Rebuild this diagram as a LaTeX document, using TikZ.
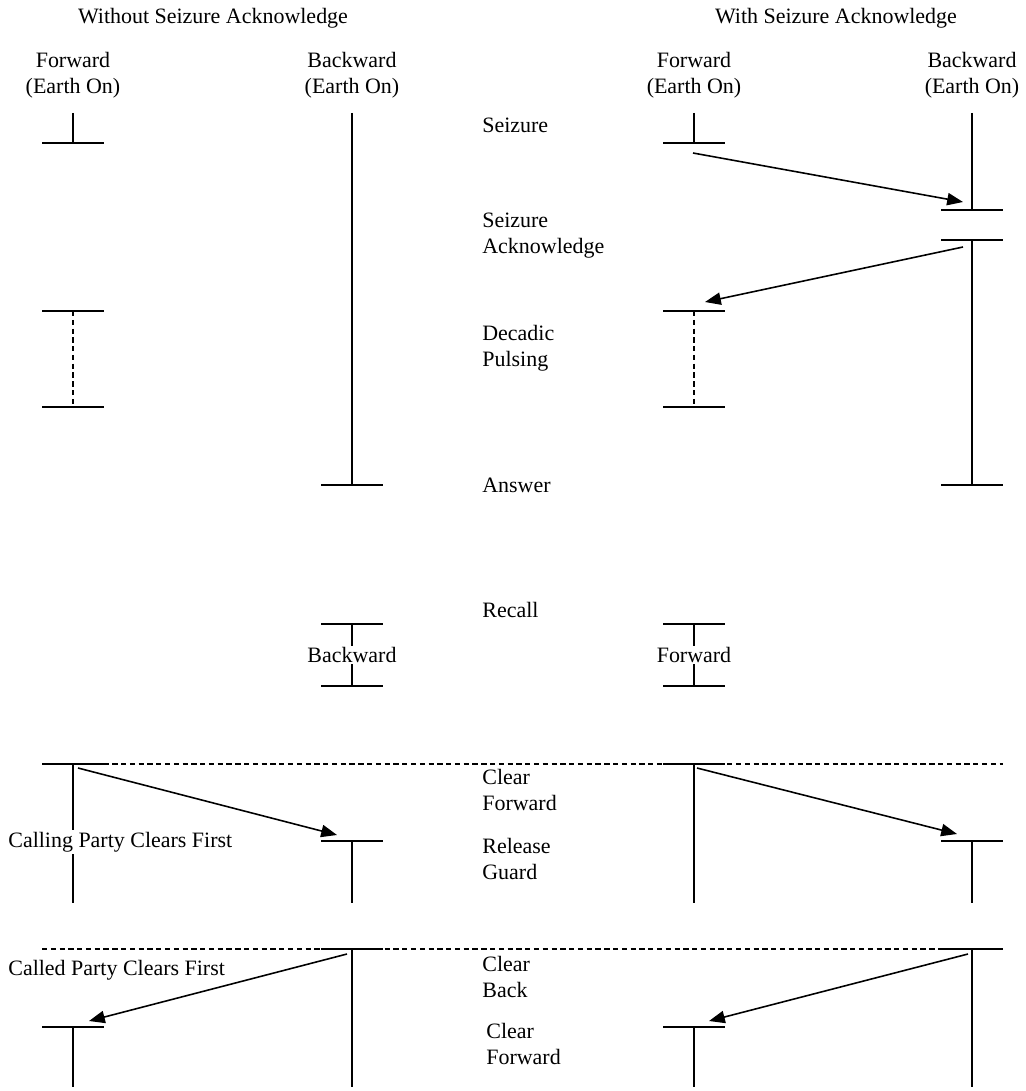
\documentclass[tikz,border=0pt]{standalone}
\usepackage{fontspec}
\setmainfont{Liberation Serif}
\usetikzlibrary{arrows.meta}
\tikzset{
  sig/.style={line width=0.9pt},
  msg/.style={line width=0.9pt, -{Triangle[length=9pt,width=7pt]}},
  dashline/.style={line width=0.9pt, dash pattern=on 3pt off 2pt},
  lbl/.style={font=\fontsize{12.5}{14.8}\selectfont, inner sep=0pt},
}
% short horizontal bar centred at (x,y)
\def\tick(#1,#2){\draw[sig] (#1-31,#2) -- (#1+31,#2);}

\begin{document}
\begin{tikzpicture}[x=0.02cm, y=-0.02cm]
			\useasboundingbox (0,0) rectangle (1026,1091);
			%%%%% HEADINGS %%%%%
			\node[lbl] (titleL) at (213,18) {Without Seizure Acknowledge};
			\node[lbl] (titleR) at (836,18) {With Seizure Acknowledge};
			\node[lbl, align=center] (fwdL) at (73,75) {Forward\\(Earth On)};
			\node[lbl, align=center] (bwdL) at (352,75) {Backward\\(Earth On)};
			\node[lbl, align=center] (fwdR) at (694,75) {Forward\\(Earth On)};
			\node[lbl, align=center] (bwdR) at (972,75) {Backward\\(Earth On)};
			
			%%%%% MIDDLE LABELS %%%%%
			\node[lbl, anchor=west] (seiz) at (482,125) {Seizure};
			\node[lbl, anchor=west, align=left] (sack) at (482,236) {Seizure\\Acknowledge};
			\node[lbl, anchor=west, align=left] (pulse) at (482,348) {Decadic\\Pulsing};
			\node[lbl, anchor=west] (ans) at (482,485) {Answer};
			\node[lbl, anchor=west] (recall) at (482,610) {Recall};
			\node[lbl, anchor=west, align=left] (clrf) at (482,790) {Clear\\Forward};
			\node[lbl, anchor=west, align=left] (relg) at (482,859) {Release\\Guard};
			\node[lbl, anchor=west, align=left] (clrb) at (482,977) {Clear\\Back};
			\node[lbl, anchor=west, align=left] (clrf2) at (486,1044) {Clear\\Forward};
			
			%%%%% WITHOUT SEIZURE ACK %%%%%
			\draw[sig] (73,113) -- (73,143); \tick(73,143)
			\draw[sig] (352,113) -- (352,485); \tick(352,485)
			\tick(73,311) \tick(73,407)
			\draw[dashline] (73,311) -- (73,407);
			
			%%%%% WITH SEIZURE ACK %%%%%
			\draw[sig] (694,113) -- (694,143); \tick(694,143)
			\draw[sig] (972,113) -- (972,210); \tick(972,210)
			\tick(972,240) \draw[sig] (972,240) -- (972,485); \tick(972,485)
			\tick(694,311) \tick(694,407)
			\draw[dashline] (694,311) -- (694,407);
			\coordinate (s1) at (693,153);
			\coordinate (s2) at (963,202);
			\coordinate (a1) at (963,247);
			\coordinate (a2) at (705,302);
			\draw[msg] (s1) -- (s2);
			\draw[msg] (a1) -- (a2);
			
			%%%%% RECALL %%%%%
			\tick(352,624) \tick(352,686)
			\draw[sig] (352,624) -- (352,686);
			\node[lbl, fill=white, inner ysep=1pt] (recB) at (352,655) {Backward};
			\tick(694,624) \tick(694,686)
			\draw[sig] (694,624) -- (694,686);
			\node[lbl, fill=white, inner ysep=1pt] (recF) at (694,655) {Forward};
			
			%%%%% CALLING PARTY CLEARS FIRST %%%%%
			\draw[dashline] (42,764) -- (1003,764);
			\tick(73,764) \draw[sig] (73,764) -- (73,903);
			\tick(352,841) \draw[sig] (352,841) -- (352,903);
			\tick(694,764) \draw[sig] (694,764) -- (694,903);
			\tick(972,841) \draw[sig] (972,841) -- (972,903);
			\node[lbl, anchor=west, fill=white, inner ysep=1pt] (calling) at (8,842) {Calling Party Clears First};
			\coordinate (c1) at (78,768);
			\coordinate (c2) at (337,835);
			\coordinate (c3) at (697,768);
			\coordinate (c4) at (957,834);
			\draw[msg] (c1) -- (c2);
			\draw[msg] (c3) -- (c4);
			
			%%%%% CALLED PARTY CLEARS FIRST %%%%%
			\draw[dashline] (42,949) -- (1003,949);
			\tick(352,949) \draw[sig] (352,949) -- (352,1087);
			\tick(73,1027) \draw[sig] (73,1027) -- (73,1087);
			\tick(972,949) \draw[sig] (972,949) -- (972,1087);
			\tick(694,1027) \draw[sig] (694,1027) -- (694,1087);
			\node[lbl, anchor=west] (called) at (8,970) {Called Party Clears First};
			\coordinate (b1) at (347,954);
			\coordinate (b2) at (89,1021);
			\coordinate (b3) at (968,954);
			\coordinate (b4) at (709,1021);
			\draw[msg] (b1) -- (b2);
			\draw[msg] (b3) -- (b4);
\end{tikzpicture}
\end{document}
